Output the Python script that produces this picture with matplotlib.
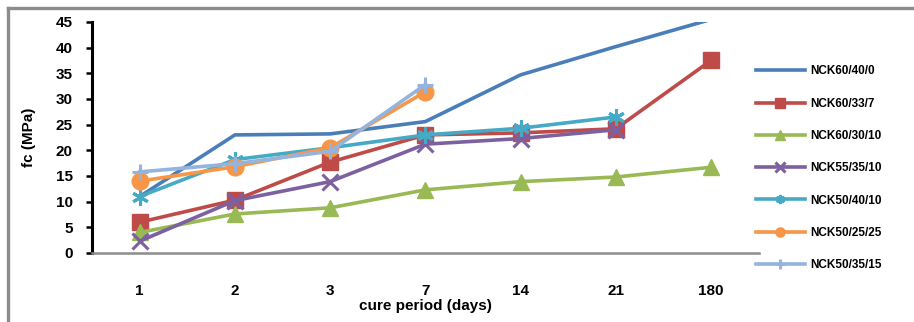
import numpy as np
import matplotlib.pyplot as plt
from matplotlib.lines import Line2D

# cure period categories
days = ["1", "2", "3", "7", "14", "21", "180"]

# compressive strength fc (MPa)
nck60_40_0 = [11, 23, 23.2, 25.6, 34.7, 40.2, 45.5]
nck60_33_7 = [6.0, 10.3, 17.7, 23.0, 23.4, 24.2, 37.5]
nck60_30_10 = [4.0, 7.6, 8.8, 12.3, 13.9, 14.8, 16.7]
nck55_35_10 = [2.3, 10.2, 13.9, 21.2, 22.3, 24.0]
nck50_40_10 = [11.0, 18.2, 20.5, 23.0, 24.3, 26.5]
nck50_25_25 = [14.0, 16.8, 20.5, 31.4]
nck50_35_15 = [15.8, 17.4, 19.8, 32.8]

series = [
    ("NCK60/40/0", nck60_40_0, "#4A7EBB", None),
    ("NCK60/33/7", nck60_33_7, "#BE4B48", "s"),
    ("NCK60/30/10", nck60_30_10, "#98B954", "^"),
    ("NCK55/35/10", nck55_35_10, "#7D60A0", "x"),
    ("NCK50/40/10", nck50_40_10, "#46AAC5", (6, 2, 0)),
    ("NCK50/25/25", nck50_25_25, "#F79646", "o"),
    ("NCK50/35/15", nck50_35_15, "#94B4DE", "+"),
]

plt.rcParams['font.family'] = ['Liberation Sans', 'DejaVu Sans']
plt.rcParams['font.weight'] = 'bold'

fig = plt.figure(figsize=(9.14, 3.22), dpi=100)
ax = fig.add_axes([0.1007, 0.2143, 0.7293, 0.7174])

x = np.arange(len(days))
for name, vals, col, mk in series:
    xs = x[:len(vals)]
    if mk is None:
        ax.plot(xs, vals, color=col, lw=2.6, label=name)
    elif mk in ("x", "+") or isinstance(mk, tuple):
        ax.plot(xs, vals, color=col, lw=2.6, marker=mk, markersize=12,
                markeredgewidth=2.2, label=name)
    else:
        ax.plot(xs, vals, color=col, lw=2.6, marker=mk, markersize=12,
                markeredgecolor=col, label=name)

ax.set_xlim(-0.5, len(days) - 0.5)
ax.set_ylim(0, 45)
ax.set_yticks(np.arange(0, 46, 5))
ax.set_xticks(x)
ax.set_xticklabels(days)

for s in ["top", "right"]:
    ax.spines[s].set_visible(False)
ax.spines["left"].set_color("black")
ax.spines["left"].set_linewidth(2.2)
ax.spines["bottom"].set_color("#8c8c8c")
ax.spines["bottom"].set_linewidth(1.8)

ax.tick_params(axis="x", length=0, pad=22, labelsize=11)
ax.tick_params(axis="y", length=4, width=1.8, direction="out", pad=10, labelsize=11)

ax.set_xlabel("cure period (days)", fontsize=11, fontweight="bold", labelpad=1)
ax.set_ylabel("fc (MPa)", fontsize=11, fontweight="bold", labelpad=14)

leg = fig.legend(loc="upper left", bbox_to_anchor=(0.815, 0.83), frameon=False,
                 fontsize=8.5, handlelength=4.2, labelspacing=1.72,
                 markerscale=0.55, handletextpad=0.4)
for t in leg.get_texts():
    t.set_fontweight("bold")

# outer chart frame (only top and left edges fall inside the picture)
fig.add_artist(Line2D([0.009, 1.0], [0.975, 0.975], transform=fig.transFigure,
                      color="#8c8c8c", lw=2.4))
fig.add_artist(Line2D([0.009, 0.009], [0.0, 0.975], transform=fig.transFigure,
                      color="#8c8c8c", lw=2.4))

fig.savefig("out.png", dpi=100)
